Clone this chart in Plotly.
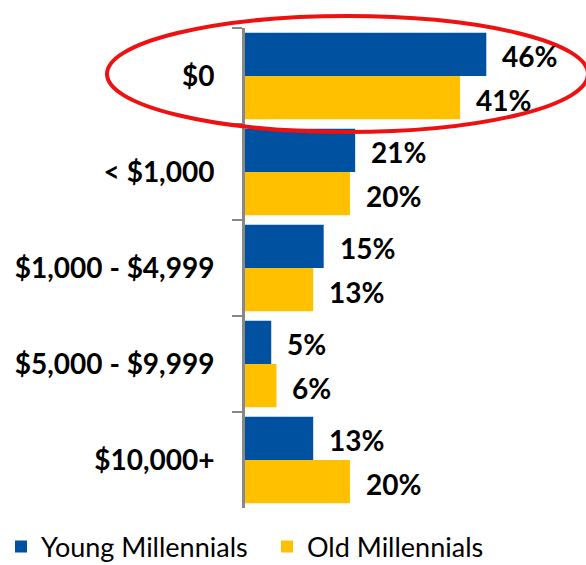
import plotly.graph_objects as go

categories = ["$0", "< $1,000", "$1,000 - $4,999", "$5,000 - $9,999", "$10,000+"]
young = [46, 21, 15, 5, 13]
old = [41, 20, 13, 6, 20]
series_names = ["Young Millennials", "Old Millennials"]
colors = ["#0052A0", "#FFC000"]

W, H = 586, 565
ml, mr, mt, mb = 245, 0, 28, 57
xmax = 65

fig = go.Figure()
for name, vals, col in zip(series_names, [young, old], colors):
    fig.add_trace(go.Bar(
        y=categories, x=vals, name=name, orientation="h",
        marker=dict(color=col, line=dict(width=0)),
    ))

band_px = (H - mt - mb) / len(categories)
bar_px = band_px * 0.9 / 2
ann = []
for vals, sign in [(young, -1), (old, 1)]:
    for c, v in zip(categories, vals):
        ann.append(dict(
            x=v, y=c, xref="x", yref="y", text=f"<b>{v}%</b>", showarrow=False,
            xanchor="left", yanchor="middle", xshift=14, yshift=-sign * bar_px / 2 - 2,
            font=dict(family="Lato", size=28, color="#000000"),
        ))

plot_w = W - ml - mr
plot_h = H - mt - mb
def px_to_paper_x(px):
    return (px - ml) / plot_w
def px_to_paper_y(py):
    return (H - mb - py) / plot_h

fig.update_layout(
    width=W, height=H,
    margin=dict(l=ml, r=mr, t=mt, b=mb, autoexpand=False),
    paper_bgcolor="white", plot_bgcolor="white",
    barmode="group", bargap=0.1, bargroupgap=0,
    showlegend=True,
    legend=dict(
        orientation="h", xref="paper", yref="paper",
        x=px_to_paper_x(1), y=px_to_paper_y(547), xanchor="left", yanchor="middle",
        font=dict(family="Lato", size=27, color="#000000"),
        itemwidth=30, tracegroupgap=0, entrywidth=221,
    ),
    xaxis=dict(range=[0, xmax], visible=False, fixedrange=True),
    yaxis=dict(
        autorange="reversed", showline=True, linecolor="#888888", linewidth=3,
        ticks="outside", tickson="boundaries", ticklen=10, tickcolor="#888888", tickwidth=2,
        ticklabelstandoff=22,
        tickfont=dict(family="Lato", size=28, color="#000000", weight="bold"),
        showgrid=False, zeroline=False,
    ),
    annotations=ann,
    shapes=[dict(
        type="circle", xref="paper", yref="paper",
        x0=px_to_paper_x(107), x1=px_to_paper_x(588),
        y0=px_to_paper_y(132), y1=px_to_paper_y(16),
        line=dict(color="#EE1111", width=4), fillcolor="rgba(0,0,0,0)", layer="above",
    )],
    font=dict(family="Lato"),
)

fig.write_html(
    "out.html",
    config={"displayModeBar": False},
    post_script="document.body.style.margin='0';document.body.style.overflow='hidden';",
)
